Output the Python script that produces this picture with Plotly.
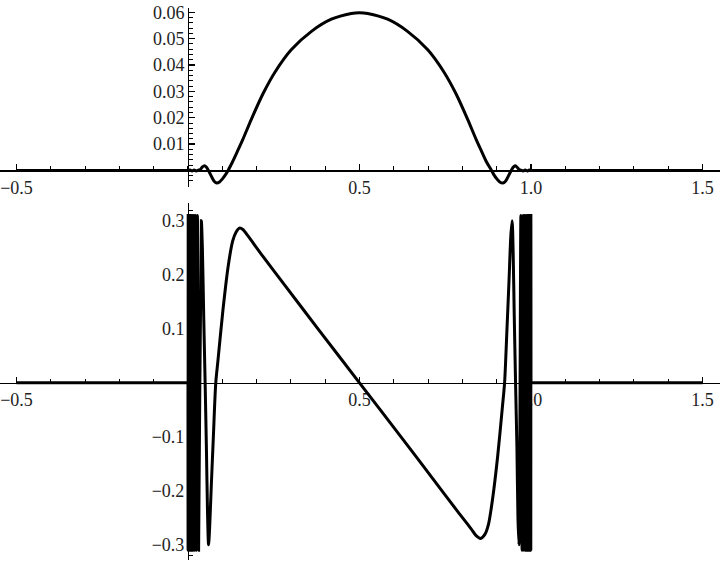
import plotly.graph_objects as go

# ---------------- data ----------------
# Top panel: the bump function
top_x = [-0.5, 0.0, 0.006, 0.012, 0.018, 0.024, 0.03, 0.036, 0.042, 0.048, 0.054,
         0.062, 0.07, 0.077, 0.084, 0.092, 0.1, 0.108, 0.117, 0.13, 0.145, 0.16,
         0.185, 0.219, 0.253, 0.301, 0.36, 0.418, 0.476, 0.5,
         0.524, 0.582, 0.64, 0.699, 0.747, 0.781, 0.815, 0.84, 0.855, 0.87, 0.885,
         0.893, 0.901, 0.909, 0.918, 0.925, 0.932, 0.94, 0.948, 0.954, 0.959,
         0.965, 0.971, 0.977, 0.983, 0.99, 0.995, 1.0, 1.5]
top_y = [0.0, 0.0, 0.0002, -0.0002, 0.0002, -0.0002, 0.0001, 0.0004, 0.0013, 0.0018, 0.0012,
         -0.0006, -0.0027, -0.0042, -0.0048, -0.0044, -0.0033, -0.0019, 0.0, 0.0033, 0.0075, 0.0118,
         0.0195, 0.0292, 0.0372, 0.0458, 0.0528, 0.0574, 0.0596, 0.0599,
         0.0596, 0.0574, 0.0528, 0.0458, 0.0372, 0.0292, 0.0195, 0.0118, 0.0075, 0.0033, 0.0,
         -0.0019, -0.0033, -0.0044, -0.0048, -0.0042, -0.0027, -0.0006, 0.0012, 0.0018, 0.0013,
         0.0004, 0.0001, -0.0002, 0.0002, -0.0002, 0.0002, 0.0, 0.0]

# Bottom panel: its derivative (dense oscillation near 0 and 1)
bot_x = [-0.5, 0.0, 0.0003, 0.0006, 0.001, 0.0015, 0.002, 0.0026, 0.0033, 0.004, 0.0048,
         0.0057, 0.0067, 0.0078, 0.009, 0.0103, 0.0118, 0.0134, 0.0152, 0.0172, 0.0194,
         0.0218, 0.0245, 0.0275, 0.031, 0.039, 0.042, 0.046, 0.05, 0.054, 0.057, 0.06,
         0.063, 0.068, 0.074, 0.081, 0.0875, 0.102, 0.117, 0.13, 0.14, 0.15, 0.16, 0.175,
         0.214, 0.282, 0.379, 0.5,
         0.621, 0.718, 0.786, 0.825, 0.84, 0.853, 0.866, 0.876, 0.888, 0.903,
         0.917, 0.923, 0.93, 0.936, 0.941, 0.945, 0.948, 0.951, 0.955, 0.959, 0.962,
         0.965, 0.9705, 0.974, 0.977, 0.9795, 0.9818, 0.9838, 0.9856, 0.9872, 0.9887,
         0.99, 0.9912, 0.9923, 0.9933, 0.9943, 0.9952, 0.996, 0.9967, 0.9974, 0.998,
         0.9985, 0.999, 0.9994, 0.9997, 1.0, 1.5]
bot_y = [0.0, 0.0, -0.31, 0.31, -0.31, 0.31, -0.31, 0.31, -0.31, 0.31, -0.31,
         0.31, -0.31, 0.31, -0.31, 0.31, -0.31, 0.31, -0.31, 0.31, -0.31,
         0.31, -0.31, 0.31, -0.31, 0.30, 0.25, 0.12, 0.0, -0.13, -0.24, -0.30,
         -0.27, -0.19, -0.10, 0.0, 0.042, 0.135, 0.215, 0.262, 0.279, 0.2865, 0.284, 0.272,
         0.238, 0.181, 0.1, 0.0,
         -0.1, -0.181, -0.238, -0.27, -0.283, -0.288, -0.28, -0.262, -0.215, -0.135,
         -0.042, 0.0, 0.10, 0.19, 0.27, 0.30, 0.24, 0.13, 0.0, -0.12, -0.25,
         -0.30, 0.31, -0.31, 0.31, -0.31, 0.31, -0.31, 0.31, -0.31, 0.31,
         -0.31, 0.31, -0.31, 0.31, -0.31, 0.31, -0.31, 0.31, -0.31, 0.31,
         -0.31, 0.31, -0.31, 0.31, 0.0, 0.0]

x_tickvals = [-0.5, 0.5, 1.0, 1.5]
x_ticktext = ["\u22120.5", "0.5", "1.0", "1.5"]
top_tickvals = [0.01, 0.02, 0.03, 0.04, 0.05, 0.06]
top_ticktext = ["0.01", "0.02", "0.03", "0.04", "0.05", "0.06"]
bot_tickvals = [-0.3, -0.2, -0.1, 0.1, 0.2, 0.3]
bot_ticktext = ["\u22120.3", "\u22120.2", "\u22120.1", "0.1", "0.2", "0.3"]

# ---------------- layout ----------------
XR = [-0.548, 1.551]
TOP_DOM = [0.669, 0.986]
TOP_R = [-0.0063, 0.0617]
BOT_DOM = [0.00885, 0.6407]
BOT_R = [-0.328, 0.333]


def zero_pos(dom, r):
    return dom[0] + (0 - r[0]) / (r[1] - r[0]) * (dom[1] - dom[0])


yaxis_xpos = (0 - XR[0]) / (XR[1] - XR[0])

font = dict(family="Liberation Serif", size=18, color="#222")

fig = go.Figure()


def add_curve(xs, ys, xa, ya):
    i0 = xs.index(0.0)
    i1 = xs.index(1.0)
    segs = [(xs[:i0 + 1], ys[:i0 + 1], "linear"),
            (xs[i0:i1 + 1], ys[i0:i1 + 1], "spline"),
            (xs[i1:], ys[i1:], "linear")]
    for sx, sy, shp in segs:
        fig.add_trace(go.Scatter(
            x=sx, y=sy, mode="lines", xaxis=xa, yaxis=ya,
            line=dict(color="black", width=3, shape=shp,
                      **({"smoothing": 0.8} if shp == "spline" else {})),
            showlegend=False, hoverinfo="skip"))


add_curve(top_x, top_y, "x", "y")
add_curve(bot_x, bot_y, "x2", "y2")

common_x = dict(range=XR, showgrid=False, zeroline=False, showline=True,
                linecolor="black", linewidth=1.5, tickmode="array",
                tickvals=x_tickvals, ticktext=x_ticktext, ticks="inside",
                ticklen=6, tickwidth=1.2, tickcolor="black", tickfont=font,
                layer="below traces", automargin=False,
                minor=dict(tick0=0, dtick=0.1, ticks="inside", ticklen=4,
                           tickwidth=1, tickcolor="black", showgrid=False),
                fixedrange=True)
common_y = dict(showgrid=False, zeroline=False, showline=True,
                linecolor="black", linewidth=1.5, tickmode="array",
                ticks="inside", ticklen=6, tickwidth=1.2, tickcolor="black",
                tickfont=font, layer="below traces", automargin=False,
                fixedrange=True)

fig.update_layout(
    width=720, height=565,
    margin=dict(l=0, r=0, t=0, b=0, autoexpand=False),
    paper_bgcolor="white", plot_bgcolor="white",
    xaxis=dict(**common_x, anchor="free", position=zero_pos(TOP_DOM, TOP_R)),
    yaxis=dict(**common_y, domain=TOP_DOM, range=TOP_R, anchor="free",
               position=yaxis_xpos, tickvals=top_tickvals, ticktext=top_ticktext,
               minor=dict(tick0=0, dtick=0.002, ticks="inside", ticklen=4,
                          tickwidth=1, tickcolor="black", showgrid=False)),
    xaxis2=dict(**common_x, anchor="free", position=zero_pos(BOT_DOM, BOT_R)),
    yaxis2=dict(**common_y, domain=BOT_DOM, range=BOT_R, anchor="free",
                position=yaxis_xpos, tickvals=bot_tickvals, ticktext=bot_ticktext,
                minor=dict(tick0=0, dtick=0.02, ticks="inside", ticklen=4,
                           tickwidth=1, tickcolor="black", showgrid=False)),
)

fig.write_html("out.html",
               config={"displayModeBar": False, "staticPlot": True},
               post_script="document.body.style.margin='0';document.body.style.overflow='hidden';")
